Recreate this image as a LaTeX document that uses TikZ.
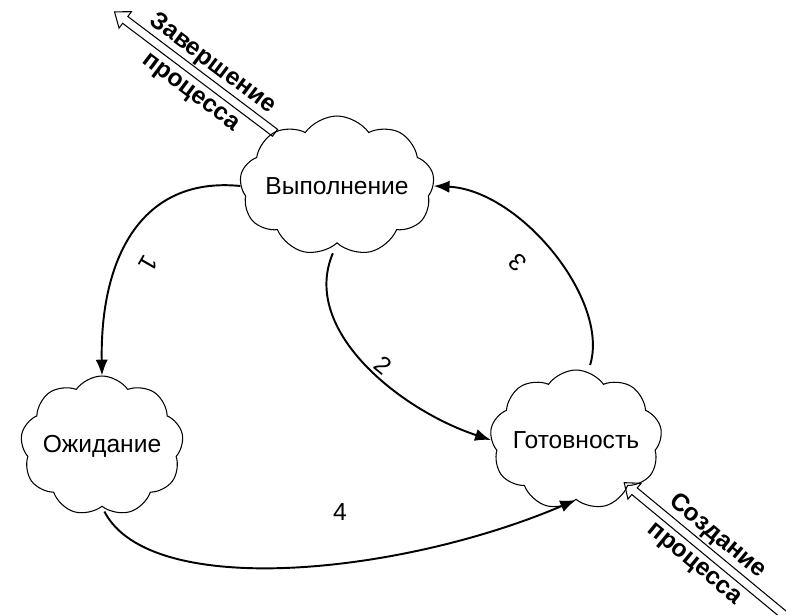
\documentclass[tikz,border=0pt]{standalone}
\usepackage{fontspec}
\setmainfont{Liberation Sans}
\usetikzlibrary{shapes.symbols}
\usetikzlibrary{shapes.arrows}
\usetikzlibrary{arrows.meta}

\begin{document}
\begin{tikzpicture}[x=0.02cm,y=-0.02cm,
        state/.style={cloud,draw,line width=0.6pt,cloud puffs=9,cloud puff arc=110,
            cloud ignores aspect,minimum width=3.0cm,minimum height=2.8cm,inner sep=0pt,
            font=\fontsize{14}{17}\selectfont},
        flow/.style={line width=1.1pt,-{Latex[length=9pt,width=7pt]}},
        num/.style={font=\fontsize{14}{17}\selectfont},
        bigarrow/.style={single arrow,draw,line width=0.6pt,inner xsep=0pt,inner ysep=0.075cm,
            single arrow head extend=0.12cm,single arrow tip angle=75},
        caption/.style={font=\bfseries\fontsize{14}{20}\selectfont,align=center}]
        \useasboundingbox (0,0) rectangle (786,614);

        \node[state] (run) at (337,186) {Выполнение};
        \node[state] (wait) at (102,446) {Ожидание};
        \node[state] (ready) at (576,440) {Готовность};

        \draw[flow] (run.west) .. controls (140,176) and (100,260) .. (wait.north);
        \draw[flow,shorten <=6pt] (run.south) .. controls (300,330) and (400,410) .. (ready.west);
        \draw[flow,shorten <=4pt] (ready.80) .. controls (610,300) and (520,190) .. (run.east);
        \draw[flow,shorten <=3pt] (wait.south) .. controls (150,600) and (400,575) .. (ready.south);

        \node[num,rotate=-120] (n1) at (148,264) {1};
        \node[num,rotate=-40] (n2) at (383,365) {2};
        \node[num,rotate=135] (n3) at (518,263) {3};
        \node[num] (n4) at (340,512) {4};

        \node[bigarrow,rotate=143,minimum height=4.02cm] (fin) at (197,74) {};
        \node[caption,rotate=-37] (fintext) at (202,78) {Завершение\\процесса};
        \node[bigarrow,rotate=140.4,minimum height=4.24cm] (new) at (708,552) {};
        \node[caption,rotate=-39.6] (newtext) at (706,550) {Создание\\процесса};
    \end{tikzpicture}
\end{document}
